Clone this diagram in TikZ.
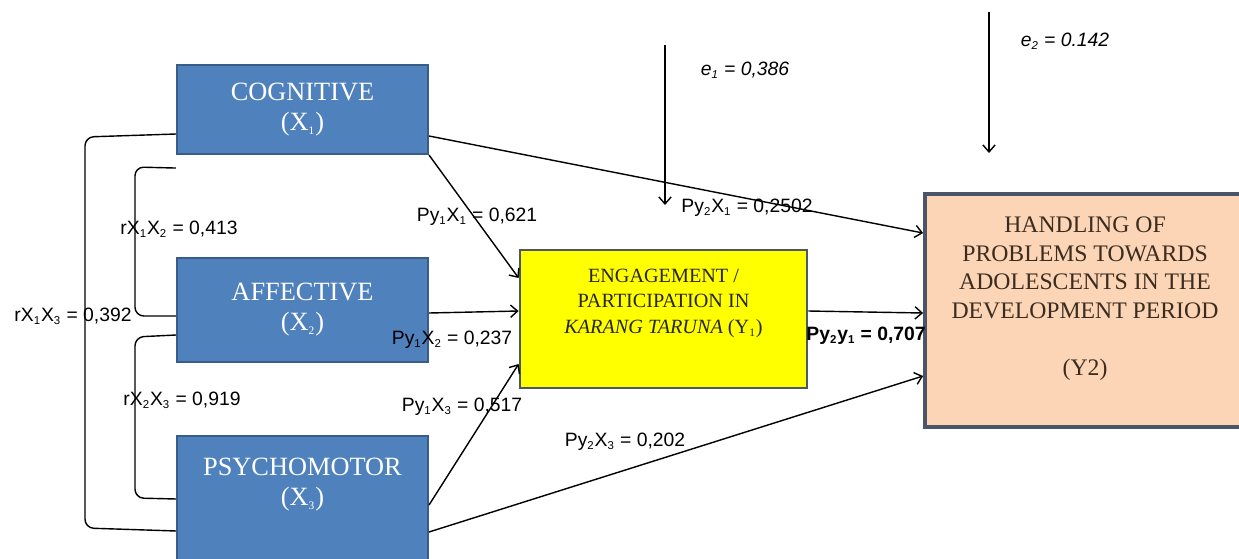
\documentclass[tikz,border=0pt]{standalone}
\usepackage{fontspec}
\usetikzlibrary{arrows.meta}
\setmainfont{Liberation Sans}
\newfontfamily\boxfont{Liberation Serif}
\newcommand\low[1]{\textsubscript{\fontsize{6.5}{7}\selectfont #1}}
\definecolor{xblue}{HTML}{4F81BD}
\definecolor{xblueline}{HTML}{385D8A}
\definecolor{yyellow}{HTML}{FFFF00}
\definecolor{yline}{HTML}{4A5868}
\definecolor{zpeach}{HTML}{FBD5B5}
\definecolor{zline}{HTML}{4A5568}
\definecolor{ztext}{HTML}{3C2C20}
\begin{document}
\begin{tikzpicture}[x=0.02cm, y=-0.02cm,
	xbox/.style={draw=xblueline, line width=1.2pt, fill=xblue, text=white, align=center, inner sep=0pt,
		minimum width=5.02cm, font=\boxfont\fontsize{15}{17}\selectfont},
	ybox/.style={draw=yline, line width=1.6pt, fill=yyellow, text=black!85, align=center, inner sep=0pt,
		minimum width=5.74cm, minimum height=2.76cm, font=\boxfont\fontsize{11.5}{14.5}\selectfont},
	zbox/.style={draw=zline, line width=2.2pt, fill=zpeach, text=ztext, align=center, inner sep=0pt,
		minimum width=6.4cm, minimum height=4.66cm, font=\boxfont\fontsize{13.5}{16.2}\selectfont},
	lbl/.style={inner sep=0pt, font=\fontsize{11}{13}\selectfont},
	path/.style={-{Straight Barb[length=4pt,width=7pt]}, line width=0.8pt},
	bracket/.style={line width=0.8pt, rounded corners=5pt}]
	\clip (0,0) rectangle (1239,558);
	% exogenous variables
	\node[xbox, minimum height=1.78cm] (cog) at (302.5,109.5) {COGNITIVE\\(X\low{1})};
	\node[xbox, minimum height=2.08cm] (aff) at (302.5,310) {AFFECTIVE\\(X\low{2})};
	\node[xbox, minimum height=2.9cm, anchor=north] (psy) at (302.5,435) {PSYCHOMOTOR\\(X\low{3})\\[13pt]\mbox{}};
	% endogenous variables
	\node[ybox] (eng) at (663.5,319) {ENGAGEMENT /\\PARTICIPATION IN\\\textit{KARANG TARUNA} (Y\low{1})\\[6pt]\mbox{}};
	\node[zbox] (hand) at (1085,310.5) {HANDLING OF\\PROBLEMS TOWARDS\\ADOLESCENTS IN THE\\DEVELOPMENT PERIOD\\[16.2pt](Y2)\\\mbox{}};
	% correlations
	\draw[bracket] ([yshift=-0.49cm]cog.west) -- (85,137) -- (85,528) -- ([yshift=-1.92cm]psy.north west);
	\draw[bracket] ([yshift=-0.26cm]cog.south west) -- (135,167) -- (135,316) -- ([yshift=-0.12cm]aff.west);
	\draw[bracket] ([yshift=-0.5cm]aff.west) -- (135,337) -- (135,498) -- ([yshift=-1.28cm]psy.north west);
	\node[lbl] (r12) at (179,229) {rX\low{1}X\low{2} = 0,413};
	\node[lbl] (r13) at (73,316) {rX\low{1}X\low{3} = 0,392};
	\node[lbl] (r23) at (182,400) {rX\low{2}X\low{3} = 0,919};
	% paths
	\draw[path] (cog.south east) -- ([yshift=0.82cm]eng.west);
	\draw[path] ([yshift=-0.06cm]aff.east) -- ([yshift=0.16cm]eng.west);
	\draw[path] ([yshift=-1.4cm]psy.north east) -- ([yshift=-0.9cm]eng.west);
	\draw[path] ([yshift=-0.53cm]cog.east) -- ([yshift=1.55cm]hand.west);
	\draw[path] ([yshift=0.16cm]eng.east) -- ([yshift=-0.05cm]hand.west);
	\draw[path] ([yshift=-1.94cm]psy.north east) -- ([yshift=-1.31cm]hand.west);
	\node[lbl] (p11) at (477,217) {Py\low{1}X\low{1} = 0,621};
	\node[lbl] (p12) at (452,340) {Py\low{1}X\low{2} = 0,237};
	\node[lbl] (p13) at (462,407) {Py\low{1}X\low{3} = 0,517};
	\node[lbl] (p21) at (747,208) {Py\low{2}X\low{1} = 0,2502};
	\node[lbl] (p23) at (625,442) {Py\low{2}X\low{3} = 0,202};
	\node[lbl, font=\fontsize{11}{13}\selectfont\bfseries] (p2y) at (866,336) {Py\low{2}y\low{1} = 0,707};
	% residuals
	\coordinate (e1top) at (665,45);
	\coordinate (e1end) at (665,205);
	\coordinate (e2top) at (989,12);
	\coordinate (e2end) at (989,153);
	\draw[path] (e1top) -- (e1end);
	\draw[path] (e2top) -- (e2end);
	\node[lbl, font=\fontsize{11}{13}\selectfont\itshape] (e1) at (745,70) {e\low{1} = 0,386};
	\node[lbl, font=\fontsize{11}{13}\selectfont\itshape] (e2) at (1065,41) {e\low{2} = 0.142};
\end{tikzpicture}
\end{document}
